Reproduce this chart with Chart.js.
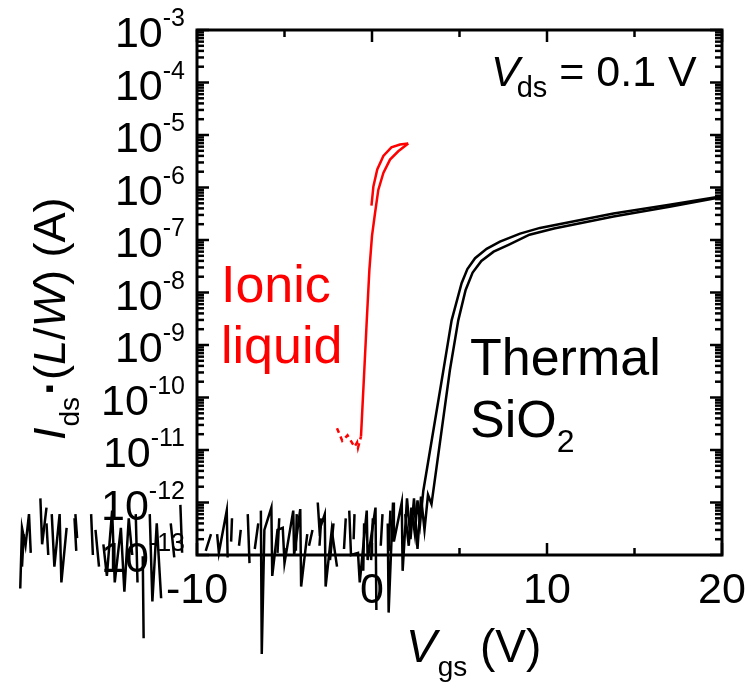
<!DOCTYPE html>
<html><head><meta charset="utf-8">
<script src="https://cdn.jsdelivr.net/npm/chart.js@4"></script>
<style>html,body{margin:0;padding:0;background:#fff;}#wrap{width:751px;height:683px;position:relative;}</style>
</head><body><div id="wrap"><canvas id="c"></canvas></div>
<script>
const FONT = '"Liberation Sans", Arial, Helvetica, sans-serif';

// ---- axis ticks ----
const xTickLabels = [-10, 0, 10, 20];
const xMinorTicks = [-5, 5, 15];
const yTickExponents = [-3, -4, -5, -6, -7, -8, -9, -10, -11, -12, -13];

// ---- Ionic liquid (red) ----
const ilUpV = [-0.63, -0.44, -0.30, -0.15, 0.0, 0.17, 0.36, 0.65, 1.03, 1.50, 2.07];
const ilUpI = [1.8e-11, 3.3e-10, 2.9e-9, 2.7e-8, 1.2e-7, 3.2e-7, 9e-7, 1.9e-6, 3.4e-6, 4.9e-6, 6.9e-6];
const ilOuterV = [-0.03, 0.08, 0.30, 0.65, 1.11, 1.6, 2.07];
const ilOuterI = [4.5e-7, 1.05e-6, 2.2e-6, 4e-6, 5.8e-6, 6.6e-6, 6.9e-6];
const ilOffV = [-2.0, -1.7, -1.4, -1.0, -0.85, -0.8, -0.63];
const ilOffI = [2.6e-11, 1.5e-11, 1.9e-11, 1.15e-11, 1.4e-11, 1.1e-11, 1.8e-11];

// ---- Thermal SiO2 (black), forward sweep ----
const sioFwdV = [-20.1, -20.0, -19.8, -19.6, -19.5, -19.3, -18.95, -18.85, -18.6, -18.5,
  -18.3, -18.15, -17.85, -17.75, -17.45, -17.35, -16.95, -16.85, -16.6, -16.05,
  -15.95, -15.7, -15.35, -15.15, -14.85, -14.7, -14.35, -14.15, -13.9, -13.7,
  -13.4, -13.1, -13.05, -12.9, -12.7, -12.55, -12.3, -12.05, -11.85, -10.95,
  -10.85, -10.6, -8.85, -8.75, -8.3, -8.25, -7.95, -7.1, -7.0, -6.7,
  -6.35, -6.3, -6.15, -5.75, -5.7, -5.4, -5.1, -5.0, -4.5, -4.45,
  -4.1, -4.05, -3.7, -3.6, -3.1, -3.0, -2.7, -2.65, -2.3, -2.0,
  -1.75, -1.3, -1.2, -0.8, -0.7, -0.3, -0.25, 0.2, 0.25, 0.5,
  0.9, 0.95, 1.2, 1.25, 1.7, 1.75, 2.0, 2.2, 2.4, 2.6,
  2.8, 3.0, 3.2, 3.4, 4.45, 4.93, 5.35, 5.75, 6.25, 6.95,
  7.8, 9.0, 10.4, 13.8, 17.0, 20];
const sioFwdI = [2.3e-14, 3.3e-13, 1.5e-13, 6e-13, 1.1e-13, null, 1.2e-12, 1.6e-13, 8e-13, null,
  6e-13, 6e-14, 6e-13, 3e-14, 3.3e-13, null, 6e-13, 2.1e-13, null, 6e-13,
  1e-13, null, 1.6e-13, 4e-14, 7e-13, 3e-14, 3.3e-13, 2e-14, 5e-13, 1e-13,
  null, 9.5e-14, 2.6e-15, null, 6e-13, 1.3e-14, 4e-13, 1.5e-14, null, 9e-13,
  1.1e-13, null, 2.5e-13, 1.1e-13, 7e-13, 9e-14, null, 6e-13, 7e-14, null,
  7e-13, 1.3e-15, 3e-13, 8e-13, 4e-14, 3e-13, 3.3e-13, 7e-14, 7e-13, 1e-13,
  7.5e-13, 2.5e-14, 2.5e-13, null, 1e-12, 3e-13, 6e-13, 2.5e-14, 3e-13, 6e-14,
  null, 7e-13, 1e-13, 1.1e-13, 3e-14, 7e-13, 8e-14, 8e-13, 9e-15, null,
  4e-13, 8e-15, 1e-12, 1.8e-13, 1e-12, 5e-14, 1.2e-12, 2e-13, 1.2e-12, 1.3e-13,
  1.3e-12, 3e-13, 1.4e-12, 9.3e-13, 3.3e-10, 2.95e-9, 1.12e-8, 2.4e-8, 4e-8, 6e-8,
  8.1e-8, 1.26e-7, 1.66e-7, 2.8e-7, 4.3e-7, 6.6e-7];

// ---- Thermal SiO2 (black), reverse sweep ----
const sioRevV = [20, 17.0, 13.8, 9.6, 8.46, 7.31, 6.55, 5.89, 5.45, 5.12,
  4.55, 4.08, 2.93, 2.75, 2.6, 2.45, 2.25, 2.1, 1.9, 1.6,
  1.05, 0.95, 0.8, 0.6, 0.5, 0.3, 0.05, -0.05, -0.2, -0.45,
  -0.5, -0.7, -1.0, -1.05, -1.2, -1.5, -1.6, -1.7, -2.2, -2.4,
  -2.6, -2.9, -3.0, -3.2, -3.4, -3.6, -3.8, -4.3, -4.35, -4.6,
  -5.3, -5.4, -5.6, -6.5, -6.7, -6.9, -7.5, -7.6, -7.8, -8.0,
  -8.05, -8.2, -9.2, -9.5, -9.7, -11.3, -11.5, -11.7, -13.4, -13.5,
  -13.7, -15.6, -15.8, -16.0, -16.9, -17.0, -17.2, -18.5, -18.6, -18.8,
  -19.9, -20.0];
const sioRevI = [6.8e-7, 4.7e-7, 3.2e-7, 1.7e-7, 1.32e-7, 9.3e-8, 6.8e-8, 4.5e-8, 2.8e-8, 1.5e-8,
  2.95e-9, 3.3e-10, 1.66e-12, 4e-13, 1.1e-12, 2.5e-13, 8e-13, 1.5e-13, 6e-13, null,
  7e-13, 1.2e-13, null, 6e-13, 1.5e-13, null, 5e-13, 8e-14, null, 4e-13,
  5e-14, null, 6e-13, 2e-13, null, 5e-13, 1.3e-13, null, 4e-13, 8e-14,
  null, 5e-13, 1.5e-13, null, 3e-13, 1.5e-13, null, 6e-13, 1.2e-13, null,
  5e-13, 1.1e-13, null, 4e-13, 1.3e-13, null, 3e-13, 1.5e-13, null, 5e-13,
  1.8e-13, null, 2.5e-13, 1.2e-13, null, 9e-14, 4e-13, null, 3e-14, 6e-13,
  null, 6e-14, 3e-13, null, 1.2e-13, 5e-13, null, 1e-13, 4e-13, null,
  2.5e-13, 6e-14];

const toXY = (vs, is) => vs.map((v, i) => ({x: v, y: is[i]}));

function seg(ctx, x1, y1, x2, y2) { ctx.beginPath(); ctx.moveTo(x1, y1); ctx.lineTo(x2, y2); ctx.stroke(); }

// draws text pieces sequentially: [text, font, dy, extra advance]
function runs(ctx, x, y, parts) {
  let cx = x;
  parts.forEach(p => {
    ctx.font = p[1];
    ctx.fillText(p[0], cx, y + (p[2] || 0));
    cx += ctx.measureText(p[0]).width + (p[3] || 0);
  });
}

const decor = {
  id: 'decor',
  beforeDatasetsDraw(chart) {
    const {ctx, chartArea: a, scales: {x, y}} = chart;
    ctx.save();
    ctx.strokeStyle = '#000'; ctx.fillStyle = '#000'; ctx.lineCap = 'butt';
    const MAJ = 12, MIN = 7;
    ctx.lineWidth = 2.5;
    yTickExponents.forEach(e => {
      const py = y.getPixelForValue(Math.pow(10, e));
      seg(ctx, a.left, py, a.left + MAJ, py);
      seg(ctx, a.right, py, a.right - MAJ, py);
      if (e > -13) {
        for (let m = 2; m <= 9; m++) {
          const pm = y.getPixelForValue(m * Math.pow(10, e - 1));
          seg(ctx, a.left, pm, a.left + MIN, pm);
          seg(ctx, a.right, pm, a.right - MIN, pm);
        }
      }
    });
    xTickLabels.forEach(v => {
      const px = x.getPixelForValue(v);
      seg(ctx, px, a.bottom, px, a.bottom - MAJ);
      seg(ctx, px, a.top, px, a.top + MAJ);
    });
    xMinorTicks.forEach(v => {
      const px = x.getPixelForValue(v);
      seg(ctx, px, a.bottom, px, a.bottom - MIN);
      seg(ctx, px, a.top, px, a.top + MIN);
    });
    ctx.lineWidth = 3;
    ctx.strokeRect(a.left, a.top, a.right - a.left, a.bottom - a.top);

    ctx.textBaseline = 'alphabetic';
    yTickExponents.forEach(e => {
      const py = y.getPixelForValue(Math.pow(10, e));
      const ex = '-' + Math.abs(e);
      ctx.textAlign = 'right';
      ctx.font = '25px ' + FONT;
      const ew = ctx.measureText(ex).width;
      ctx.fillText(ex, 185, py - 4);
      ctx.font = '43px ' + FONT;
      ctx.fillText('10', 185 - ew, py + 17);
    });
    ctx.textAlign = 'center';
    ctx.font = '43px ' + FONT;
    xTickLabels.forEach(v => {
      ctx.fillText(String(v), x.getPixelForValue(v), 603);
    });

    ctx.textAlign = 'left';
    runs(ctx, 406, 662, [['V', 'italic 46px ' + FONT, 0, 1], ['gs', '28px ' + FONT, 14], [' (V)', '46px ' + FONT, 0]]);
    ctx.save();
    ctx.translate(65, 440);
    ctx.rotate(-Math.PI / 2);
    runs(ctx, 0, 0, [['I', 'italic 45px ' + FONT, 0, 1], ['ds', '28px ' + FONT, 14, 2], ['\u00B7', 'bold 45px ' + FONT, 0], ['(', '45px ' + FONT, 0],
      ['L', 'italic 45px ' + FONT, 0], ['/', '45px ' + FONT, 0], ['W', 'italic 45px ' + FONT, 0], [') (A)', '45px ' + FONT, 0]]);
    ctx.restore();

    runs(ctx, 491, 86, [['V', 'italic 43px ' + FONT, 0, -3], ['ds', '29px ' + FONT, 11], [' = 0.1 V', '43px ' + FONT, 0]]);
    ctx.font = '52px ' + FONT;
    ctx.fillText('Thermal', 470, 375);
    runs(ctx, 470, 437, [['SiO', '52px ' + FONT, 0], ['2', '32px ' + FONT, 15]]);
    ctx.fillStyle = '#ff0000';
    ctx.font = '52px ' + FONT;
    ctx.fillText('Ionic', 221, 302);
    ctx.fillText('liquid', 221, 363);
    ctx.restore();
  }
};

const common = {pointRadius: 0, showLine: true, clip: false, tension: 0, borderWidth: 2.5, fill: false};

new Chart(document.getElementById('c'), {
  type: 'scatter',
  data: {
    datasets: [
      Object.assign({data: toXY(sioFwdV, sioFwdI), borderColor: '#000'}, common),
      Object.assign({data: toXY(sioRevV, sioRevI), borderColor: '#000'}, common),
      Object.assign({data: toXY(ilOffV, ilOffI), borderColor: '#ff0000', borderDash: [5, 4]}, common),
      Object.assign({data: toXY(ilUpV, ilUpI), borderColor: '#ff0000'}, common),
      Object.assign({data: toXY(ilOuterV, ilOuterI), borderColor: '#ff0000'}, common)
    ]
  },
  options: {
    responsive: true, maintainAspectRatio: false, animation: false, events: [],
    layout: {padding: {left: 197, right: 29, top: 30, bottom: 128}},
    plugins: {legend: {display: false}, tooltip: {enabled: false}},
    scales: {
      x: {type: 'linear', display: false, bounds: 'data',
          afterDataLimits: s => { s.min = xTickLabels[0]; s.max = xTickLabels[xTickLabels.length - 1]; }},
      y: {type: 'logarithmic', display: false, min: Math.pow(10, -13), max: Math.pow(10, -3)}
    }
  },
  plugins: [decor]
});
</script></body></html>
